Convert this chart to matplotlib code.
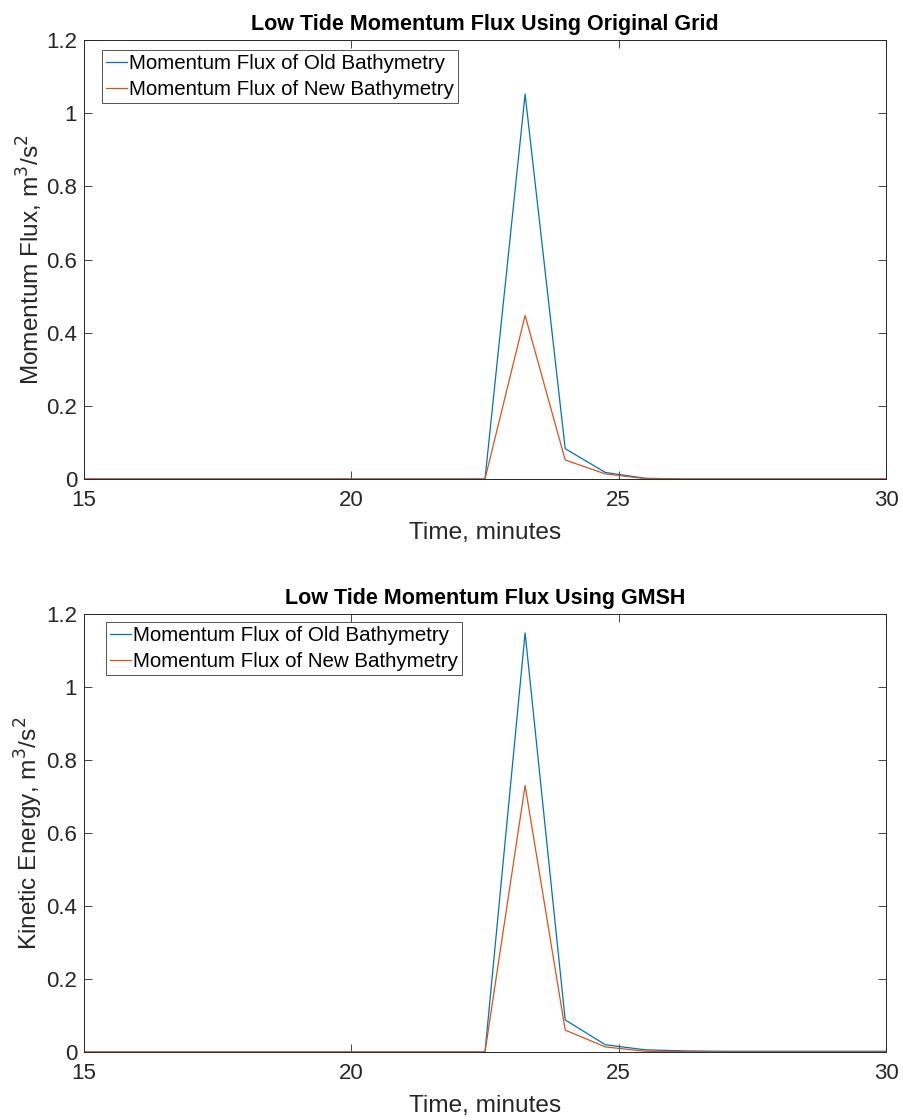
import matplotlib.pyplot as plt
import numpy as np

plt.rcParams['font.family'] = ['Liberation Sans', 'DejaVu Sans']

# time samples every 0.75 minutes
time = [15.0, 15.75, 16.5, 17.25, 18.0, 18.75, 19.5, 20.25, 21.0, 21.75,
        22.5, 23.25, 24.0, 24.75, 25.5, 26.25, 27.0, 27.75, 28.5, 29.25, 30.0]

old_grid = [0, 0, 0, 0, 0, 0, 0, 0, 0, 0,
            0, 1.052, 0.083, 0.018, 0.002, 0, 0, 0, 0, 0, 0]
new_grid = [0, 0, 0, 0, 0, 0, 0, 0, 0, 0,
            0, 0.447, 0.052, 0.014, 0.001, 0, 0, 0, 0, 0, 0]

old_gmsh = [0, 0, 0, 0, 0, 0, 0, 0, 0, 0,
            0, 1.148, 0.088, 0.02, 0.006, 0.003, 0.002, 0.002, 0.002, 0.002, 0.002]
new_gmsh = [0, 0, 0, 0, 0, 0, 0, 0, 0, 0,
            0, 0.73, 0.06, 0.014, 0.002, 0.001, 0, 0, 0, 0, 0]

titles = ['Low Tide Momentum Flux Using Original Grid',
          'Low Tide Momentum Flux Using GMSH']
ylabels = ['Momentum Flux, m$^3$/s$^2$', 'Kinetic Energy, m$^3$/s$^2$']
series = [(old_grid, new_grid), (old_gmsh, new_gmsh)]
labels = ['Momentum Flux of Old Bathymetry', 'Momentum Flux of New Bathymetry']

blue = '#0072BD'
orange = '#D95319'
axcol = '#262626'

fig = plt.figure(figsize=(9.04, 11.2), dpi=100)
positions = [[0.0929, 0.5723, 0.8872, 0.392], [0.0929, 0.0607, 0.8872, 0.3911]]
leg_anchor = [(0.022, 0.977), (0.027, 0.982)]

for i in range(2):
    ax = fig.add_axes(positions[i])
    old, new = series[i]
    ax.plot(time, old, color=blue, lw=0.9, label=labels[0])
    ax.plot(time, new, color=orange, lw=0.9, label=labels[1])
    ax.set_xlim(15, 30)
    ax.set_ylim(0, 1.2)
    ax.set_xticks([15, 20, 25, 30])
    ax.set_yticks(np.arange(0, 1.21, 0.2))
    ax.set_yticklabels(['0', '0.2', '0.4', '0.6', '0.8', '1', '1.2'])
    ax.tick_params(direction='in', top=True, right=True, length=6,
                   width=0.6, colors=axcol, labelsize=16)
    ax.tick_params(axis='x', pad=8)
    ax.tick_params(axis='y', pad=5)
    for s in ax.spines.values():
        s.set_color(axcol)
        s.set_linewidth(0.7)
    ax.set_title(titles[i], fontsize=15.5, fontweight='bold', pad=7)
    ax.set_xlabel('Time, minutes', fontsize=17.6, color=axcol, labelpad=7.5)
    ax.set_ylabel(ylabels[i], fontsize=17.6, color=axcol, labelpad=1)
    leg = ax.legend(loc='upper left', bbox_to_anchor=leg_anchor[i],
                    fontsize=14.8, frameon=True, fancybox=False,
                    handlelength=1.05, handletextpad=0.1, borderpad=0.2,
                    labelspacing=0.35, borderaxespad=0)
    leg.get_frame().set_edgecolor(axcol)
    leg.get_frame().set_linewidth(0.7)

plt.savefig('out.png', dpi=100)
